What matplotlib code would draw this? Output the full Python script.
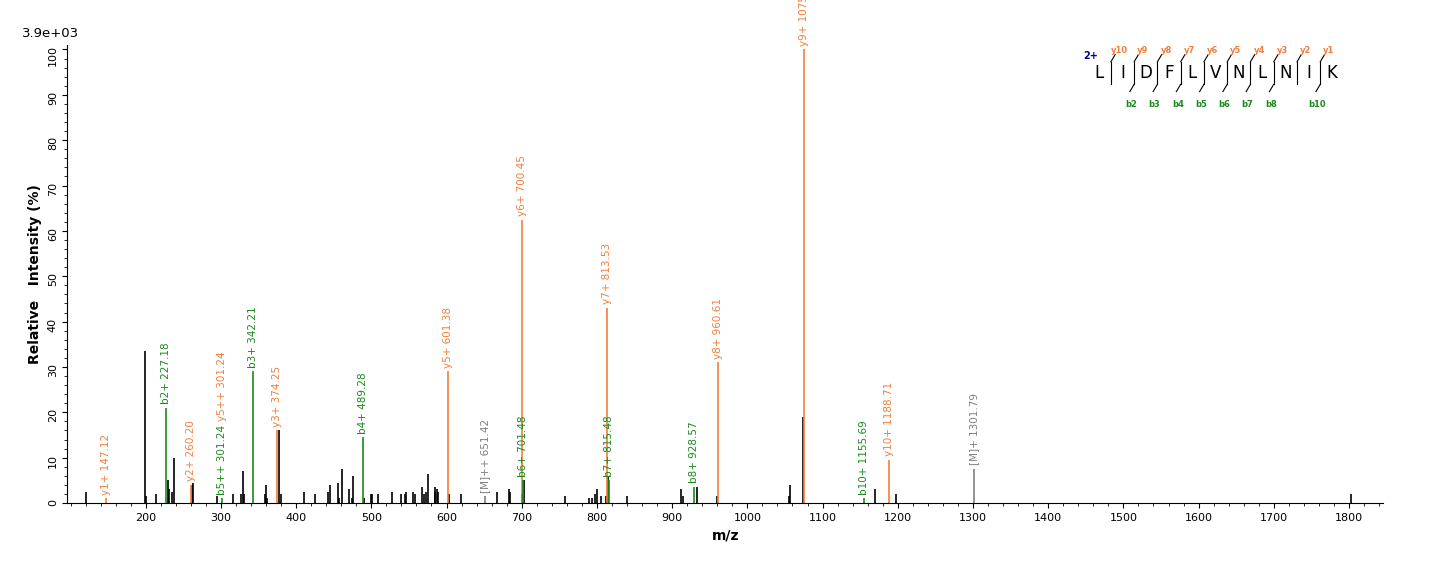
import matplotlib
matplotlib.use('Agg')
import matplotlib.pyplot as plt
from matplotlib.ticker import MultipleLocator

# unlabelled peaks (m/z, relative intensity)
bg_mz = [120, 199, 200, 214, 229, 231, 235, 237, 262, 263, 295, 316, 327, 329, 331,
         359, 360, 361, 377, 380, 411, 425, 443, 445, 456, 457, 461, 470, 474, 475,
         490, 500, 501, 509, 528, 540, 545, 546, 555, 558, 568, 570, 573, 575, 584,
         585, 587, 589, 603, 619, 667, 683, 685, 700, 703, 757, 790, 793, 797, 800,
         805, 812, 815, 840, 912, 915, 933, 960, 1055, 1057, 1074, 1170, 1197, 1802]
bg_int = [2.5, 33.5, 1.5, 2, 5, 3, 2.5, 10, 4, 4.5, 1.5, 2, 2, 7, 2,
          2, 4, 1, 16, 2, 2.5, 2, 2.5, 4, 4.5, 1, 7.5, 3, 1, 6,
          1, 2, 2, 2, 2.5, 2, 2, 2.5, 2.5, 2, 3.5, 2, 2.5, 6.5, 3.5,
          2.5, 3, 2.5, 2, 2, 2.5, 3, 2.5, 2, 5, 1.5, 1, 1, 2, 3,
          1.5, 1.5, 6, 1.5, 3, 1.5, 3.5, 1.5, 1.5, 4, 19, 3, 2, 2]

# annotated fragment ions
ion_mz = [147.12, 227.18, 260.20, 301.24, 342.21, 374.25, 489.28, 601.38, 651.42,
          700.45, 701.48, 813.53, 815.48, 928.57, 960.61, 1075.64, 1155.69, 1188.71, 1301.79]
ion_int = [1, 21, 4, 1, 29, 16, 14.5, 29, 1.5, 62.5, 5, 43, 5, 3.5, 31, 100, 1, 9.5, 7.5]
ion_lab = ['y1+ 147.12', 'b2+ 227.18', 'y2+ 260.20', 'b5++ 301.24', 'b3+ 342.21',
           'y3+ 374.25', 'b4+ 489.28', 'y5+ 601.38', '[M]++ 651.42', 'y6+ 700.45',
           'b6+ 701.48', 'y7+ 813.53', 'b7+ 815.48', 'b8+ 928.57', 'y8+ 960.61',
           'y9+ 1075.64', 'b10+ 1155.69', 'y10+ 1188.71', '[M]+ 1301.79']
ion_type = ['y', 'b', 'y', 'b', 'b', 'y', 'b', 'y', 'm', 'y', 'b', 'y', 'b', 'b', 'y',
            'y', 'b', 'y', 'm']
colors = {'y': '#f07f3c', 'b': '#1a8a1a', 'm': '#808080'}

fig = plt.figure(figsize=(14.36, 5.62), dpi=100)
ax = fig.add_axes([0.047, 0.105, 0.916, 0.815])

ax.vlines(bg_mz, 0, bg_int, color='black', lw=1.2)
for mz, h, lab, t in zip(ion_mz, ion_int, ion_lab, ion_type):
    c = colors[t]
    ax.vlines(mz, 0, h, color=c, lw=1.2)
    ax.text(mz, h + 0.8, lab, rotation=90, color=c, ha='center', va='bottom',
            fontsize=7.5, clip_on=False)
# y5++ stacked above b5++
ax.text(301.24, 18, 'y5++ 301.24', rotation=90, color=colors['y'],
        ha='center', va='bottom', fontsize=7.5)

ax.set_xlim(96, 1845)
ax.set_ylim(0, 101)
ax.xaxis.set_major_locator(MultipleLocator(100))
ax.xaxis.set_minor_locator(MultipleLocator(20))
ax.yaxis.set_major_locator(MultipleLocator(10))
ax.yaxis.set_minor_locator(MultipleLocator(2))
ax.set_xticks([t for t in range(200, 1900, 100)])
ax.tick_params(labelsize=8)
ax.tick_params(axis='y', labelrotation=90)
for s in ['top', 'right']:
    ax.spines[s].set_visible(False)
ax.set_xlabel('m/z', fontsize=10, fontweight='bold')
ax.set_ylabel('Relative   Intensity (%)', fontsize=10, fontweight='bold')
fig.text(0.015, 0.935, '3.9e+03', fontsize=9.5)

# sequence coverage sketch
seq = list('LIDFLVNLNIK')
x0, dx, ys = 0.7655, 0.0162, 0.87
for i, aa in enumerate(seq):
    fig.text(x0 + i * dx, ys, aa, fontsize=12, ha='center', va='center')
fig.text(x0 - 0.011, 0.895, '2+', fontsize=7, color='#00008b', fontweight='bold')
y_idx = {1: 10, 2: 9, 3: 8, 4: 7, 5: 6, 6: 5, 7: 4, 8: 3, 9: 2, 10: 1}
b_idx = {2: 2, 3: 3, 4: 4, 5: 5, 6: 6, 7: 7, 8: 8, 10: 10}
for i in range(1, 11):
    xb = x0 + (i - 0.5) * dx
    fig.add_artist(plt.Line2D([xb, xb], [ys - 0.02, ys + 0.02], color='black', lw=0.8,
                              transform=fig.transFigure))
    if i in y_idx:
        fig.add_artist(plt.Line2D([xb, xb + 0.003], [ys + 0.02, ys + 0.033], color='black',
                                  lw=0.8, transform=fig.transFigure))
        fig.text(xb + 0.006, ys + 0.036, 'y%d' % y_idx[i], fontsize=6,
                 color=colors['y'], ha='center', fontweight='bold')
    if i in b_idx:
        fig.add_artist(plt.Line2D([xb, xb - 0.003], [ys - 0.02, ys - 0.033], color='black',
                                  lw=0.8, transform=fig.transFigure))
        fig.text(xb - 0.002, ys - 0.06, 'b%d' % b_idx[i], fontsize=6,
                 color=colors['b'], ha='center', fontweight='bold')

fig.savefig('out.png', dpi=100)
